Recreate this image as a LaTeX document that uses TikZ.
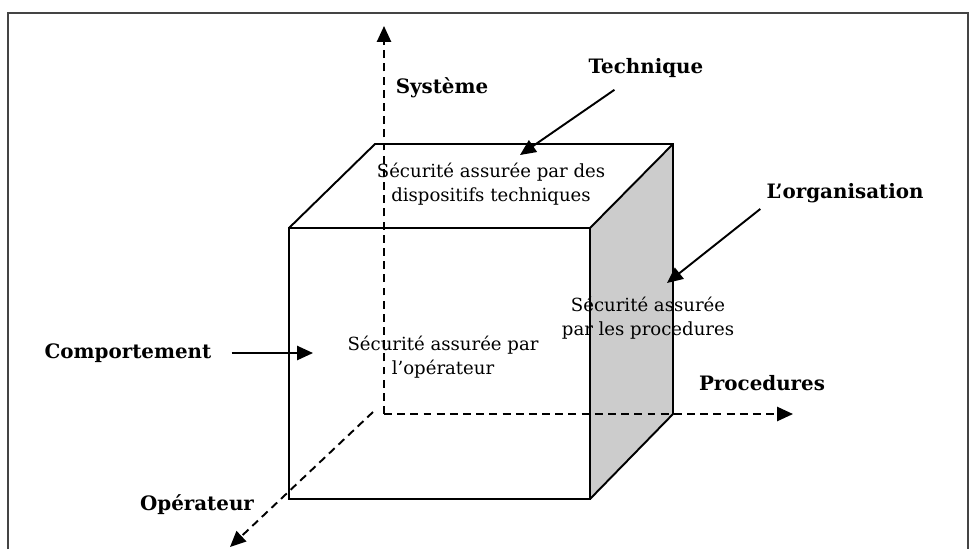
\documentclass[tikz,border=0pt]{standalone}
\usepackage{fontspec}
\setmainfont{DejaVu Serif}
\usetikzlibrary{arrows.meta}
\definecolor{framegray}{HTML}{444444}

\begin{document}
\begin{tikzpicture}[x=0.02cm,y=-0.02cm]
  \tikzstyle{arrow} = [line width=1.1pt,-{Triangle[length=9pt,width=8pt]}]
  \tikzstyle{axisline} = [arrow,dash pattern=on 4.5pt off 3pt]
  \tikzstyle{cubeline} = [line width=1.1pt,line join=miter]
  \tikzstyle{boldtag} = [font=\fontsize{11.3}{13.5}\selectfont\bfseries]
  \tikzstyle{facetext} = [align=center,font=\fontsize{10.3}{13.7}\selectfont]

  \useasboundingbox (0,0) rectangle (976,549);
  \draw[framegray,line width=1.1pt] (8,549) -- (8,13) -- (968,13) -- (968,549);

  % cube corners
  \coordinate (fbl) at (289,499);
  \coordinate (fbr) at (590,499);
  \coordinate (ftr) at (590,228);
  \coordinate (ftl) at (289,228);
  \coordinate (btl) at (375,144);
  \coordinate (btr) at (673,144);
  \coordinate (bbr) at (673,414);

  \fill[gray!40] (fbr) -- (ftr) -- (btr) -- (bbr) -- cycle;
  \draw[cubeline] (fbl) rectangle (ftr);
  \draw[cubeline] (ftl) -- (btl) -- (btr) -- (bbr) -- (fbr);
  \draw[cubeline] (ftr) -- (btr);

  % axes
  \coordinate (origin) at (384,414);
  \coordinate (systop) at (384,26);
  \coordinate (procend) at (793,414);
  \coordinate (opstart) at (373,412);
  \coordinate (opend) at (230,547);
  \draw[axisline] (origin) -- (systop);
  \draw[axisline] (origin) -- (procend);
  \draw[axisline] (opstart) -- (opend);

  \node[boldtag] (systeme) at (442,88) {Système};
  \node[boldtag] (technique) at (646,68) {Technique};
  \node[boldtag] (orga) at (845,193) {L’organisation};
  \node[boldtag] (procedures) at (762,383) {Procedures};
  \node[boldtag] (comport) at (128,353) {Comportement};
  \node[boldtag] (operateur) at (197,505) {Opérateur};

  \node[facetext] (toptext) at (491,184) {Sécurité assurée par des\\dispositifs techniques};
  \node[facetext] (fronttext) at (443,357) {Sécurité assurée par\\l’opérateur};
  \node[facetext] (sidetext) at (648,318) {Sécurité assurée\\par les procedures};

  \coordinate (toptip) at (520,155);
  \coordinate (sidetip) at (667,283);
  \coordinate (fronttip) at (313,353);
  \draw[arrow,shorten <=6pt] (technique) -- (toptip);
  \draw[arrow] (orga.south west) -- (sidetip);
  \draw[arrow,shorten <=8pt] (comport) -- (fronttip);
\end{tikzpicture}
\end{document}
